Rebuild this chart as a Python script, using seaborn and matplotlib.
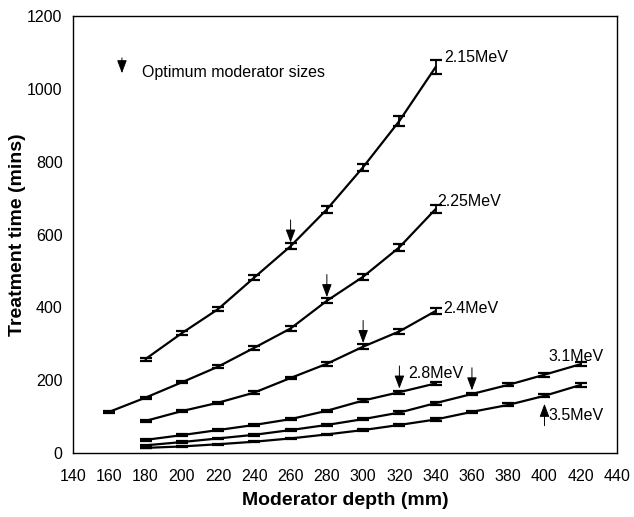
import numpy as np
import pandas as pd
import matplotlib
matplotlib.use("Agg")
import matplotlib.pyplot as plt
import seaborn as sns
from matplotlib.ticker import MultipleLocator

sns.set_style("white")
plt.rcParams['font.family'] = ['Liberation Sans', 'DejaVu Sans']
plt.rcParams['text.color'] = 'black'
plt.rcParams['axes.labelcolor'] = 'black'

# ---- data ----
energies = ["2.15MeV", "2.25MeV", "2.4MeV", "2.8MeV", "3.1MeV", "3.5MeV"]

depth_215 = [180, 200, 220, 240, 260, 280, 300, 320, 340]
time_215 = [258, 329, 395, 482, 568, 669, 785, 912, 1060]
err_215 = [4, 5, 6, 7, 9, 9, 10, 13, 18]

depth_225 = [160, 180, 200, 220, 240, 260, 280, 300, 320, 340]
time_225 = [113, 152, 194, 237, 289, 342, 418, 484, 565, 670]
err_225 = [2, 3, 3, 4, 5, 6, 7, 8, 9, 12]

depth_24 = [180, 200, 220, 240, 260, 280, 300, 320, 340]
time_24 = [88, 115, 138, 166, 206, 245, 292, 334, 390]
err_24 = [2, 3, 3, 4, 4, 5, 6, 6, 7]

depth_28 = [180, 200, 220, 240, 260, 280, 300, 320, 340]
time_28 = [36, 49, 63, 77, 93, 116, 144, 167, 191]
err_28 = [2, 2, 2, 3, 3, 3, 4, 4, 5]

depth_31 = [180, 200, 220, 240, 260, 280, 300, 320, 340, 360, 380, 400, 420]
time_31 = [21, 30, 40, 50, 63, 77, 93, 111, 137, 162, 187, 215, 244]
err_31 = [2, 2, 2, 2, 2, 3, 3, 3, 4, 4, 4, 5, 6]

depth_35 = [180, 200, 220, 240, 260, 280, 300, 320, 340, 360, 380, 400, 420]
time_35 = [14, 18, 24, 31, 40, 51, 63, 77, 92, 113, 132, 157, 187]
err_35 = [1, 1, 1, 2, 2, 2, 2, 3, 3, 3, 4, 4, 5]

depths = [depth_215, depth_225, depth_24, depth_28, depth_31, depth_35]
times = [time_215, time_225, time_24, time_28, time_31, time_35]
errs = [err_215, err_225, err_24, err_28, err_31, err_35]

# optimum moderator sizes (arrow positions)
opt_depth = [260, 280, 300, 320, 360, 400]
opt_time = [568, 418, 292, 167, 162, 157]

# label positions
label_x = [345, 341, 344, 325, 402, 402]
label_y = [1085, 690, 397, 219, 266, 104]

x_ticks = list(range(140, 441, 20))
y_ticks = list(range(0, 1201, 200))

rows = []
for e, d, t, er in zip(energies, depths, times, errs):
    for di, ti, ei in zip(d, t, er):
        rows.append({"energy": e, "depth": di, "time": ti, "err": ei})
df = pd.DataFrame(rows)

# ---- figure ----
fig = plt.figure(figsize=(6.34, 5.17), dpi=100)
ax = fig.add_axes([0.1151, 0.1238, 0.8581, 0.8452])

sns.lineplot(data=df, x="depth", y="time", hue="energy",
             palette=["black"] * len(energies), linewidth=1.6,
             legend=False, ax=ax, sort=True)

ax.errorbar(df["depth"], df["time"], yerr=df["err"], fmt="none", ecolor="black",
            capsize=4.5, capthick=1.6, elinewidth=1.3, zorder=3)

arrow_style = dict(arrowstyle="-|>,head_width=0.3,head_length=0.8",
                   color="black", lw=0.7, shrinkA=0, shrinkB=0)

# arrows for optimum sizes
for i, (xd, yd) in enumerate(zip(opt_depth, opt_time)):
    if i == 5:
        ax.annotate("", xy=(xd, yd - 22), xytext=(xd, yd - 82), arrowprops=arrow_style)
    else:
        ax.annotate("", xy=(xd, yd + 10), xytext=(xd, yd + 72), arrowprops=arrow_style)

for lab, lx, ly in zip(energies, label_x, label_y):
    ax.text(lx, ly, lab, fontsize=11.5, ha="left", va="center", color="black")

# legend-like annotation
ax.annotate("", xy=(167, 1043), xytext=(167, 1085), arrowprops=arrow_style)
ax.text(178, 1044, "Optimum moderator sizes", fontsize=11.5, ha="left", va="center",
        color="black")

ax.set_xlim(140, 440)
ax.set_ylim(0, 1200)
ax.set_xticks(x_ticks)
ax.set_yticks(y_ticks)
ax.xaxis.set_minor_locator(MultipleLocator(4))
ax.yaxis.set_minor_locator(MultipleLocator(40))
ax.tick_params(axis="both", which="major", direction="inout", length=7, width=0.8,
               labelsize=11.5, color="black", labelcolor="black")
ax.tick_params(axis="both", which="minor", direction="inout", length=5, width=0.6,
               color="black")
ax.tick_params(axis="x", pad=8)
ax.tick_params(axis="y", pad=4)

for s in ax.spines.values():
    s.set_color("black")
    s.set_linewidth(1.0)
    s.set_visible(True)

ax.set_xlabel("Moderator depth (mm)", fontsize=14, fontweight="bold", labelpad=6,
              color="black")
ax.set_ylabel("Treatment time (mins)", fontsize=14, fontweight="bold", labelpad=1,
              color="black")

fig.savefig("out.png", dpi=100)
